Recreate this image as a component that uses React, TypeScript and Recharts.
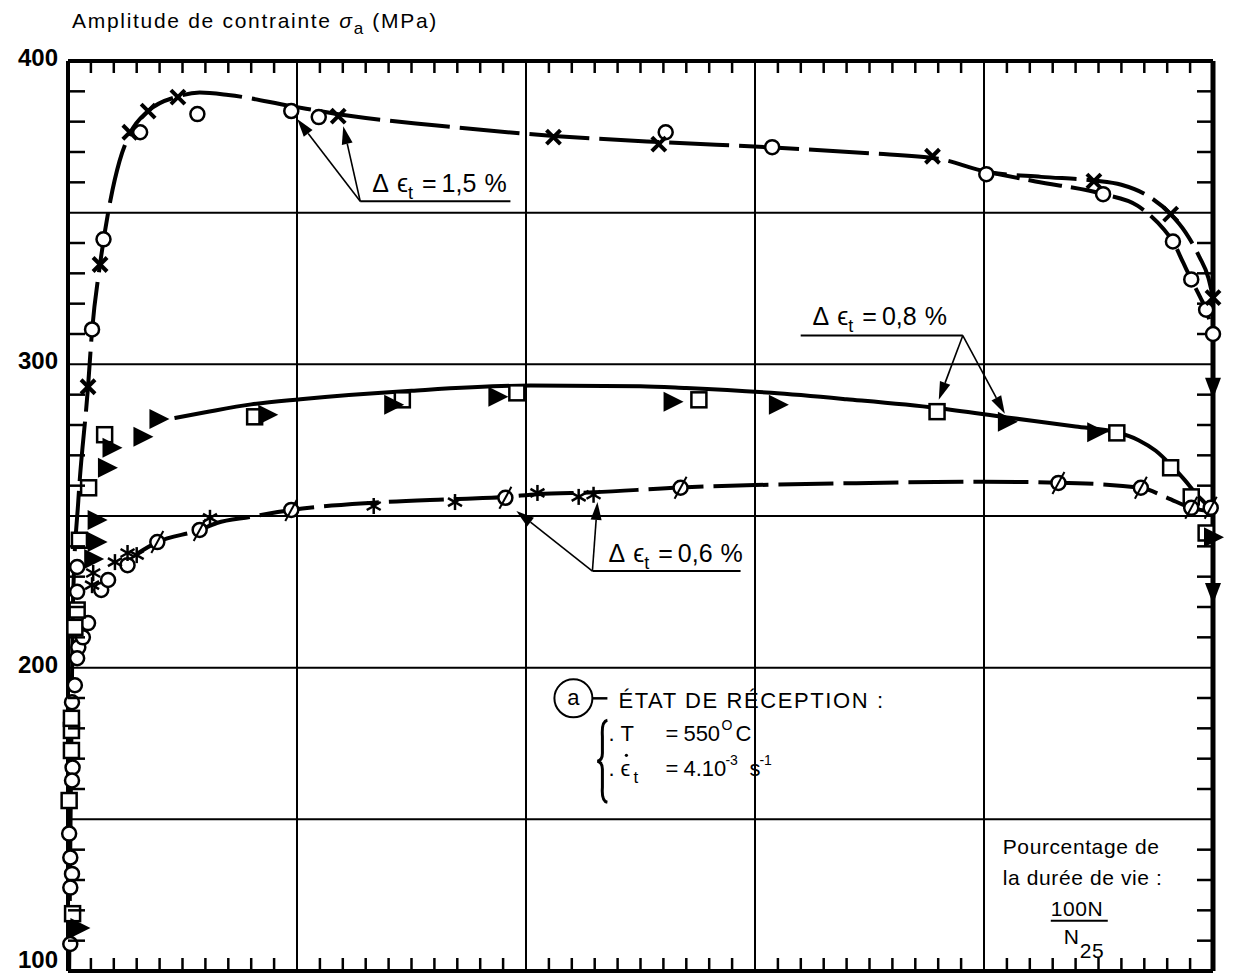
import React from 'react';
import { ComposedChart, Line, Scatter, XAxis, YAxis, ReferenceLine, ReferenceDot } from 'recharts';

type P = { x: number; y: number };

// ---------- data: Δεt = 1,5 % ----------
const cross15: P[] = [
  { x: 1.75, y: 292.6 }, { x: 2.8, y: 332.9 }, { x: 5.4, y: 376.5 }, { x: 7.0, y: 383.5 },
  { x: 9.6, y: 388.1 }, { x: 23.6, y: 381.8 }, { x: 42.4, y: 374.9 }, { x: 51.6, y: 372.6 },
  { x: 75.5, y: 368.6 }, { x: 89.6, y: 360.4 }, { x: 96.3, y: 349.5 }, { x: 100, y: 322 },
];
const circle15: P[] = [
  { x: 2.1, y: 311.5 }, { x: 3.1, y: 341.2 }, { x: 6.3, y: 376.5 }, { x: 11.3, y: 382.5 },
  { x: 19.5, y: 383.5 }, { x: 21.9, y: 381.5 }, { x: 52.2, y: 376.5 }, { x: 61.5, y: 371.6 },
  { x: 80.2, y: 362.7 }, { x: 90.4, y: 356.1 }, { x: 96.5, y: 340.5 }, { x: 98.1, y: 328 },
  { x: 99.4, y: 318 }, { x: 100, y: 310 },
];
const curve15Upper: P[] = [
  { x: 0.1, y: 100 }, { x: 0.25, y: 160 }, { x: 0.45, y: 224 }, { x: 0.9, y: 255 },
  { x: 1.75, y: 292.6 }, { x: 2.1, y: 311 }, { x: 2.8, y: 333 }, { x: 3.7, y: 354 },
  { x: 4.5, y: 367 }, { x: 5.4, y: 376 }, { x: 7.0, y: 383.5 }, { x: 9.6, y: 388.3 },
  { x: 11.5, y: 389.6 }, { x: 14, y: 388.8 }, { x: 19.4, y: 385.2 }, { x: 24.4, y: 382 },
  { x: 32, y: 378.8 }, { x: 42.4, y: 375.3 }, { x: 52, y: 373.2 }, { x: 61.5, y: 371.5 },
  { x: 70, y: 369.6 }, { x: 76, y: 367.8 }, { x: 80.2, y: 363.5 }, { x: 85, y: 361.8 },
  { x: 89.6, y: 360.6 }, { x: 92, y: 359.2 }, { x: 94.2, y: 355.8 }, { x: 96.3, y: 349.5 },
  { x: 97.6, y: 343.5 }, { x: 98.8, y: 335.5 }, { x: 99.6, y: 328.5 }, { x: 100, y: 322 },
];
const curve15Lower: P[] = [
  { x: 80.2, y: 363.5 }, { x: 84.5, y: 360.3 }, { x: 90.4, y: 356.1 }, { x: 93.4, y: 352.3 },
  { x: 95.7, y: 344.5 }, { x: 96.5, y: 340.5 }, { x: 97.4, y: 333.5 }, { x: 98.1, y: 328 },
  { x: 98.9, y: 322 }, { x: 99.4, y: 318 }, { x: 100, y: 310 },
];

// ---------- data: Δεt = 0,8 % ----------
const square08: P[] = [
  { x: 0.4, y: 118.9 }, { x: 0.1, y: 156.2 }, { x: 0.3, y: 172.7 }, { x: 0.3, y: 179.3 },
  { x: 0.3, y: 183.3 }, { x: 0.6, y: 213.3 }, { x: 0.8, y: 219 }, { x: 1.0, y: 242 },
  { x: 1.8, y: 259.3 }, { x: 3.2, y: 276.8 }, { x: 16.3, y: 282.7 }, { x: 29.2, y: 288.3 },
  { x: 39.2, y: 290.6 }, { x: 55.1, y: 288.3 }, { x: 75.9, y: 284.4 }, { x: 91.6, y: 277.4 },
  { x: 96.3, y: 265.9 }, { x: 98.1, y: 256.3 }, { x: 99.4, y: 244.4 },
];
const tri08: P[] = [
  { x: 1.0, y: 114.2 }, { x: 2.2, y: 235.8 }, { x: 2.5, y: 241.4 }, { x: 2.5, y: 248.7 },
  { x: 3.4, y: 265.9 }, { x: 3.8, y: 272.5 }, { x: 6.5, y: 276.1 }, { x: 7.9, y: 282 },
  { x: 17.4, y: 283.4 }, { x: 28.4, y: 286.7 }, { x: 37.5, y: 289.3 }, { x: 52.8, y: 287.7 },
  { x: 62, y: 286.7 }, { x: 82, y: 281.1 }, { x: 89.8, y: 277.6 }, { x: 100, y: 243 },
];
const curve08: P[] = [
  { x: 9.3, y: 282.3 }, { x: 12, y: 284.2 }, { x: 16, y: 286.8 }, { x: 20.3, y: 288.5 },
  { x: 30, y: 291.3 }, { x: 40.4, y: 293 }, { x: 50, y: 292.8 }, { x: 54, y: 292.2 },
  { x: 61.4, y: 290.6 }, { x: 68, y: 288.5 }, { x: 75.9, y: 285.6 }, { x: 82, y: 282.5 },
  { x: 88, y: 279.5 }, { x: 91.6, y: 277.6 }, { x: 93.5, y: 275 }, { x: 95, y: 271.5 },
  { x: 96.4, y: 266.5 }, { x: 97.5, y: 262 }, { x: 98.6, y: 257 }, { x: 99.6, y: 253 },
  { x: 100, y: 251 },
];
const failDown: P[] = [{ x: 100, y: 292.3 }, { x: 100, y: 224.6 }];

// ---------- data: Δεt = 0,6 % ----------
const slash06: P[] = [
  { x: 7.8, y: 241.4 }, { x: 11.5, y: 245.4 }, { x: 19.5, y: 252 }, { x: 38.2, y: 256 },
  { x: 53.5, y: 259.3 }, { x: 86.5, y: 260.9 }, { x: 93.7, y: 259.3 }, { x: 98.1, y: 252.7 },
  { x: 99.8, y: 252.7 },
];
const star06: P[] = [
  { x: 2.1, y: 227.2 }, { x: 2.2, y: 231.2 }, { x: 4.1, y: 234.8 }, { x: 5.2, y: 237.8 },
  { x: 6.0, y: 237.1 }, { x: 12.4, y: 249.4 }, { x: 26.7, y: 253.3 }, { x: 33.8, y: 254.6 },
  { x: 41, y: 257.6 }, { x: 44.6, y: 256.3 }, { x: 45.9, y: 257 },
];
const circleEarly: P[] = [
  { x: 0.8, y: 233.2 }, { x: 0.8, y: 225 }, { x: 0.9, y: 206.7 }, { x: 0.8, y: 203.1 },
  { x: 1.3, y: 210 }, { x: 1.75, y: 214.7 }, { x: 0.6, y: 194.2 }, { x: 0.35, y: 188.6 },
  { x: 0.4, y: 167.1 }, { x: 0.35, y: 162.8 }, { x: 0.1, y: 145.3 }, { x: 0.2, y: 137.4 },
  { x: 0.35, y: 132 }, { x: 0.2, y: 127.5 }, { x: 0.2, y: 108.9 }, { x: 2.9, y: 225.6 },
  { x: 3.5, y: 228.9 }, { x: 5.2, y: 233.8 },
];
const curve06: P[] = [
  { x: 6.0, y: 237.5 }, { x: 7.8, y: 241.4 }, { x: 11.5, y: 245.4 }, { x: 13, y: 247.7 },
  { x: 15.9, y: 249.7 }, { x: 19.5, y: 252 }, { x: 26.7, y: 254.4 }, { x: 33.8, y: 255.6 },
  { x: 38.2, y: 256.3 }, { x: 41, y: 257.2 }, { x: 45.9, y: 257.8 }, { x: 53.5, y: 259.4 },
  { x: 60, y: 260.2 }, { x: 70, y: 260.9 }, { x: 80, y: 261.3 }, { x: 86.5, y: 261 },
  { x: 93.7, y: 259.3 }, { x: 96, y: 256 }, { x: 98.1, y: 252.7 }, { x: 100, y: 251.5 },
];

// ---------- axes ----------
const xMinorTicks = [2, 4, 6, 8, 10, 12, 14, 16, 18, 22, 24, 26, 28, 30, 32, 34, 36, 38, 42, 44, 46, 48, 50, 52, 54, 56, 58, 62, 64, 66, 68, 70, 72, 74, 76, 78, 82, 84, 86, 88, 90, 92, 94, 96, 98];
const yMinorTicks = [110, 120, 130, 140, 160, 170, 180, 190, 210, 220, 230, 240, 260, 270, 280, 290, 310, 320, 330, 340, 360, 370, 380, 390];
const yLabelTicks = [100, 200, 300, 400];
const yLeftTicks = [100, 110, 120, 130, 140, 160, 170, 180, 190, 200, 210, 220, 230, 240, 260, 270, 280, 290, 300, 310, 320, 330, 340, 360, 370, 380, 390, 400];
const gridX = [20, 40, 60, 80];
const gridY = [150, 200, 250, 300, 350];

// ---------- annotations (data coordinates) ----------
const label15 = { x: 26.57, y: 356.7, text: '1,5' };
const label08 = { x: 65.03, y: 313.1, text: '0,8' };
const label06 = { x: 47.2, y: 234.8, text: '0,6' };
const underline15 = [{ x: 25.52, y: 353.75 }, { x: 38.64, y: 353.75 }];
const underline08 = [{ x: 63.99, y: 309.48 }, { x: 78.15, y: 309.48 }];
const underline06 = [{ x: 45.8, y: 231.85 }, { x: 58.74, y: 231.85 }];
const arrows = [
  [{ x: 25.52, y: 353.75 }, { x: 20.02, y: 380.84 }],
  [{ x: 25.52, y: 353.75 }, { x: 24.04, y: 378.53 }],
  [{ x: 78.15, y: 309.48 }, { x: 76.05, y: 288.34 }],
  [{ x: 78.15, y: 309.48 }, { x: 81.82, y: 283.71 }],
  [{ x: 45.8, y: 231.85 }, { x: 39.16, y: 251.67 }],
  [{ x: 45.8, y: 231.85 }, { x: 46.24, y: 254.64 }],
];
const boxAnchor = { x: 44.14, y: 189.89 };
const lifeAnchor = { x: 81.64, y: 138.69 };

const FONT = '"Liberation Sans", Arial, Helvetica, sans-serif';

type Kind = 'cross' | 'circle' | 'square' | 'triR' | 'triD' | 'slash' | 'star' | 'none';

const Mark = ({ kind, cx, cy }: { kind: Kind; cx: number; cy: number }) => {
  if (cx == null || cy == null) return null;
  switch (kind) {
    case 'cross':
      return (
        <g stroke="#000" strokeWidth={4}>
          <line x1={cx - 7} y1={cy - 7} x2={cx + 7} y2={cy + 7} />
          <line x1={cx - 7} y1={cy + 7} x2={cx + 7} y2={cy - 7} />
        </g>
      );
    case 'circle':
      return <circle cx={cx} cy={cy} r={7} fill="#fff" stroke="#000" strokeWidth={2.5} />;
    case 'square':
      return <rect x={cx - 7.5} y={cy - 7.5} width={15} height={15} fill="#fff" stroke="#000" strokeWidth={2.5} />;
    case 'triR':
      return <polygon points={`${cx - 9},${cy - 10} ${cx + 11},${cy} ${cx - 9},${cy + 10}`} fill="#000" />;
    case 'triD':
      return <polygon points={`${cx - 8},${cy - 10} ${cx + 8},${cy - 10} ${cx},${cy + 11}`} fill="#000" />;
    case 'slash':
      return (
        <g>
          <circle cx={cx} cy={cy} r={7} fill="#fff" stroke="#000" strokeWidth={2.5} />
          <line x1={cx - 6} y1={cy + 11} x2={cx + 6} y2={cy - 11} stroke="#000" strokeWidth={2} />
        </g>
      );
    case 'star':
      return (
        <g stroke="#000" strokeWidth={2.5}>
          <line x1={cx} y1={cy - 8} x2={cx} y2={cy + 8} />
          <line x1={cx - 7} y1={cy - 4} x2={cx + 7} y2={cy + 4} />
          <line x1={cx - 7} y1={cy + 4} x2={cx + 7} y2={cy - 4} />
        </g>
      );
  }
  return <g />;
};

const shapeOf = (kind: Kind) => (p: any) => <Mark kind={kind} cx={p.cx} cy={p.cy} />;

const NoLabel = () => <g />;

const LeftTick = (p: any) => {
  const { x, y, payload } = p;
  const v = payload.value;
  const dy = v === 100 ? -3 : 5;
  return (
    <g>
      {yMinorTicks.includes(v) && <line x1={x} x2={x + 17} y1={y} y2={y} stroke="#000" strokeWidth={2.5} />}
      {yLabelTicks.includes(v) && (
        <text x={x - 10} y={y + dy} textAnchor="end" fontFamily={FONT} fontSize={24} fontWeight="bold" fill="#000">
          {v}
        </text>
      )}
    </g>
  );
};

const ArrowShape = (p: any) => {
  const { x1, y1, x2, y2 } = p;
  const dx = x2 - x1;
  const dy = y2 - y1;
  const len = Math.sqrt(dx * dx + dy * dy) || 1;
  const ux = dx / len;
  const uy = dy / len;
  const hl = 18;
  const hw = 5.5;
  const bx = x2 - ux * hl;
  const by = y2 - uy * hl;
  return (
    <g>
      <line x1={x1} y1={y1} x2={bx} y2={by} stroke="#000" strokeWidth={1.6} />
      <polygon points={`${x2},${y2} ${bx - uy * hw},${by + ux * hw} ${bx + uy * hw},${by - ux * hw}`} fill="#000" />
    </g>
  );
};

const deltaLabel = (value: string) => (p: any) => (
  <text x={p.cx} y={p.cy} fontFamily={FONT} fontSize={25} fill="#000">
    <tspan>Δ</tspan>
    <tspan dx={8}>ϵ</tspan>
    <tspan fontSize={18} dy={7}>t</tspan>
    <tspan dy={-7} dx={9}>=</tspan>
    <tspan dx={5}>{value}</tspan>
    <tspan dx={8}>%</tspan>
  </text>
);

const BoxShape = (p: any) => {
  const { cx, cy } = p;
  const t = { fontFamily: FONT, fontSize: 22, fill: '#000' } as any;
  return (
    <g>
      <circle cx={cx} cy={cy} r={19} fill="#fff" stroke="#000" strokeWidth={2} />
      <text x={cx} y={cy + 7} textAnchor="middle" {...t}>a</text>
      <line x1={cx + 19} y1={cy} x2={cx + 34} y2={cy} stroke="#000" strokeWidth={2.5} />
      <text x={cx + 45} y={cy + 10} {...t} letterSpacing={1.6}>ÉTAT DE RÉCEPTION :</text>
      <path
        d={`M ${cx + 34} ${cy + 22} Q ${cx + 28} ${cy + 23} ${cx + 29} ${cy + 38} L ${cx + 29} ${cy + 55} Q ${cx + 29} ${cy + 62} ${cx + 24} ${cy + 63} Q ${cx + 29} ${cy + 64} ${cx + 29} ${cy + 71} L ${cx + 29} ${cy + 89} Q ${cx + 28} ${cy + 103} ${cx + 34} ${cy + 104}`}
        fill="none" stroke="#000" strokeWidth={3}
      />
      <text x={cx + 35} y={cy + 43} {...t}>.</text>
      <text x={cx + 47} y={cy + 43} {...t}>T</text>
      <text x={cx + 92} y={cy + 43} {...t}>=</text>
      <text x={cx + 110} y={cy + 43} {...t}>550</text>
      <text x={cx + 148} y={cy + 32} {...t} fontSize={14}>O</text>
      <text x={cx + 162} y={cy + 43} {...t}>C</text>
      <text x={cx + 35} y={cy + 78} {...t}>.</text>
      <text x={cx + 47} y={cy + 78} {...t}>ϵ</text>
      <circle cx={cx + 53} cy={cy + 57} r={1.6} fill="#000" />
      <text x={cx + 60} y={cy + 85} {...t} fontSize={17}>t</text>
      <text x={cx + 92} y={cy + 78} {...t}>=</text>
      <text x={cx + 110} y={cy + 78} {...t}>4.10</text>
      <text x={cx + 152} y={cy + 67} {...t} fontSize={14}>-3</text>
      <text x={cx + 176} y={cy + 78} {...t}>s</text>
      <text x={cx + 186} y={cy + 67} {...t} fontSize={14}>-1</text>
    </g>
  );
};

const LifeShape = (p: any) => {
  const { cx, cy } = p;
  const t = { fontFamily: FONT, fontSize: 21, fill: '#000', letterSpacing: 0.6 } as any;
  return (
    <g>
      <text x={cx} y={cy} {...t}>Pourcentage de</text>
      <text x={cx} y={cy + 31} {...t}>la durée de vie :</text>
      <text x={cx + 48} y={cy + 62} {...t}>100N</text>
      <line x1={cx + 48} y1={cy + 67} x2={cx + 105} y2={cy + 67} stroke="#000" strokeWidth={2} />
      <text x={cx + 61} y={cy + 90} {...t}>N</text>
      <text x={cx + 77} y={cy + 104} {...t}>25</text>
    </g>
  );
};

const AX = { xAxisId: 'b', yAxisId: 'l' } as const;
const TICK_LINE = { stroke: '#000', strokeWidth: 2.5 };

export default function App() {
  return (
    <div style={{ position: 'absolute', left: 0, top: 0, width: 1237, height: 974, background: '#fff', overflow: 'hidden' }}>
      <div style={{ position: 'absolute', left: 0, top: 0 }}>
        <ComposedChart width={1237} height={974} margin={{ top: 61, right: 24, bottom: 3, left: 0 }}>
          <XAxis xAxisId="b" type="number" dataKey="x" domain={[0, 100]} ticks={xMinorTicks} interval={0}
            orientation="bottom" mirror height={1} tick={NoLabel} tickSize={13}
            tickLine={TICK_LINE} axisLine={{ stroke: '#000', strokeWidth: 4 }} />
          <XAxis xAxisId="t" type="number" dataKey="x" domain={[0, 100]} ticks={xMinorTicks} interval={0}
            orientation="top" mirror height={1} tick={NoLabel} tickSize={12}
            tickLine={TICK_LINE} axisLine={{ stroke: '#000', strokeWidth: 4 }} />
          <YAxis yAxisId="l" type="number" dataKey="y" domain={[100, 400]} ticks={yLeftTicks} interval={0}
            orientation="left" width={68} tickLine={false} tickSize={0} tickMargin={0}
            tick={(p: any) => <LeftTick {...p} />} axisLine={{ stroke: '#000', strokeWidth: 4 }} />
          <YAxis yAxisId="r" type="number" dataKey="y" domain={[100, 400]} ticks={yMinorTicks} interval={0}
            orientation="right" mirror width={1} tick={NoLabel} tickSize={16}
            tickLine={TICK_LINE} axisLine={{ stroke: '#000', strokeWidth: 5 }} />

          {gridX.map((v) => (
            <ReferenceLine key={'gx' + v} {...AX} x={v} stroke="#000" strokeWidth={2} />
          ))}
          {gridY.map((v) => (
            <ReferenceLine key={'gy' + v} {...AX} y={v} stroke="#000" strokeWidth={2} />
          ))}

          {/* invisible helper binding the top and right frame axes so that their ticks are computed */}
          <Scatter xAxisId="t" yAxisId="r" data={cross15} shape={shapeOf('none')} isAnimationActive={false} />

          <Line {...AX} data={curve15Upper} dataKey="y" type="monotone" stroke="#000" strokeWidth={4}
            strokeDasharray="60 10" dot={false} activeDot={false} isAnimationActive={false} />
          <Line {...AX} data={curve15Lower} dataKey="y" type="monotone" stroke="#000" strokeWidth={4}
            strokeDasharray="34 9" dot={false} activeDot={false} isAnimationActive={false} />
          <Line {...AX} data={curve08} dataKey="y" type="monotone" stroke="#000" strokeWidth={4}
            dot={false} activeDot={false} isAnimationActive={false} />
          <Line {...AX} data={curve06} dataKey="y" type="monotone" stroke="#000" strokeWidth={4}
            strokeDasharray="55 10" dot={false} activeDot={false} isAnimationActive={false} />

          <ReferenceLine {...AX} segment={underline15} stroke="#000" strokeWidth={2} />
          <ReferenceLine {...AX} segment={underline08} stroke="#000" strokeWidth={2} />
          <ReferenceLine {...AX} segment={underline06} stroke="#000" strokeWidth={2} />
          {arrows.map((seg, i) => (
            <ReferenceLine key={'ar' + i} {...AX} segment={seg} shape={ArrowShape} />
          ))}

          <Scatter {...AX} data={circleEarly} shape={shapeOf('circle')} isAnimationActive={false} />
          <Scatter {...AX} data={square08} shape={shapeOf('square')} isAnimationActive={false} />
          <Scatter {...AX} data={tri08} shape={shapeOf('triR')} isAnimationActive={false} />
          <Scatter {...AX} data={failDown} shape={shapeOf('triD')} isAnimationActive={false} />
          <Scatter {...AX} data={slash06} shape={shapeOf('slash')} isAnimationActive={false} />
          <Scatter {...AX} data={star06} shape={shapeOf('star')} isAnimationActive={false} />
          <Scatter {...AX} data={circle15} shape={shapeOf('circle')} isAnimationActive={false} />
          <Scatter {...AX} data={cross15} shape={shapeOf('cross')} isAnimationActive={false} />

          <ReferenceDot {...AX} x={label15.x} y={label15.y} r={0} shape={deltaLabel(label15.text)} />
          <ReferenceDot {...AX} x={label08.x} y={label08.y} r={0} shape={deltaLabel(label08.text)} />
          <ReferenceDot {...AX} x={label06.x} y={label06.y} r={0} shape={deltaLabel(label06.text)} />
          <ReferenceDot {...AX} x={boxAnchor.x} y={boxAnchor.y} r={0} shape={BoxShape} />
          <ReferenceDot {...AX} x={lifeAnchor.x} y={lifeAnchor.y} r={0} shape={LifeShape} />
        </ComposedChart>
      </div>
      <div style={{ position: 'absolute', left: 72, top: 9, fontFamily: FONT, fontSize: 21, letterSpacing: 1.7, whiteSpace: 'nowrap', lineHeight: '24px', color: '#000' }}>
        Amplitude de contrainte <span style={{ fontStyle: 'italic' }}>σ</span>
        <span style={{ fontSize: 17, position: 'relative', top: 6 }}>a</span> (MPa)
      </div>
    </div>
  );
}
